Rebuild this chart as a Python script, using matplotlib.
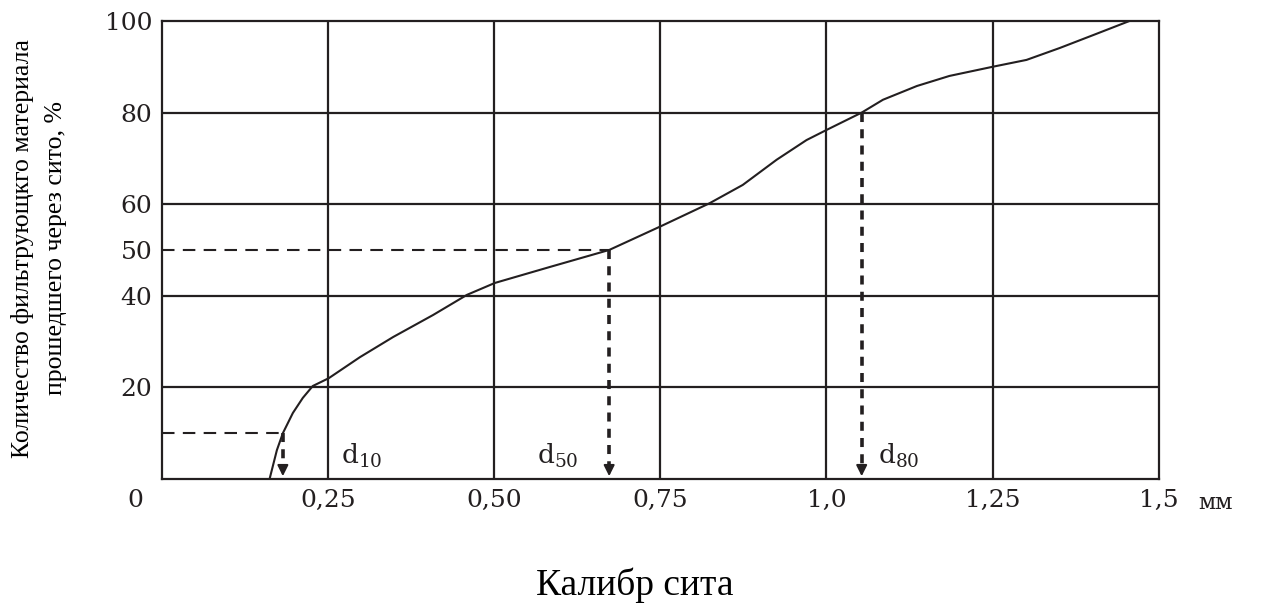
import matplotlib.pyplot as plt

# Данные кривой (калибр сита, мм -> % прошедшего материала)
size_mm = [0.162, 0.173, 0.182, 0.197, 0.212, 0.227, 0.251, 0.298, 0.348, 0.408,
           0.459, 0.501, 0.584, 0.673, 0.751, 0.824, 0.874, 0.925, 0.970, 1.000,
           1.053, 1.085, 1.136, 1.185, 1.250, 1.301, 1.351, 1.401, 1.456]
passed = [0.0, 6.3, 10.0, 14.4, 17.7, 20.3, 22.0, 26.6, 31.0, 35.8,
          40.2, 42.8, 46.3, 50.0, 55.2, 60.2, 64.2, 69.7, 74.0, 76.2,
          80.0, 82.8, 85.8, 88.0, 90.0, 91.5, 94.1, 96.9, 100.0]

# характерные диаметры
d_names = ['10', '50', '80']
d_values = [0.182, 0.673, 1.053]
d_levels = [10, 50, 80]

x_ticks = [0.25, 0.50, 0.75, 1.0, 1.25, 1.5]
x_labels = ['0,25', '0,50', '0,75', '1,0', '1,25', '1,5']
y_ticks = [20, 40, 50, 60, 80, 100]
y_grid = [20, 40, 60, 80]

plt.rcParams['mathtext.fontset'] = 'dejavuserif'
ink = '#231f20'

fig = plt.figure(figsize=(12.65, 6.1), dpi=100)
ax = fig.add_axes([0.128, 0.2148, 0.788, 0.7508])
ax.set_xlim(0, 1.5)
ax.set_ylim(0, 100)

# сетка
for x in x_ticks[:-1]:
    ax.axvline(x, color=ink, lw=1.6, zorder=1)
for y in y_grid:
    ax.axhline(y, color=ink, lw=1.6, zorder=1)
for s in ax.spines.values():
    s.set_linewidth(1.6)
    s.set_color(ink)

ax.plot(size_mm, passed, color=ink, lw=1.5, zorder=3, solid_joinstyle='round')

# пунктирные выноски
for name, dv, lv in zip(d_names, d_values, d_levels):
    if lv <= 50:
        ax.plot([0, dv], [lv, lv], color=ink, lw=1.5, dashes=(6, 4), zorder=2)
    ax.plot([dv, dv], [lv, 2.5], color=ink, lw=2.6, dashes=(2.5, 2), zorder=2)
    ax.annotate('', xy=(dv, 0), xytext=(dv, 3.5),
                arrowprops=dict(arrowstyle='-|>', color=ink, lw=1.5,
                                mutation_scale=16), zorder=4)

ax.text(0.27, 3.3, r'$\mathregular{d_{10}}$', fontsize=19, family='DejaVu Serif', color=ink)
ax.text(0.565, 3.3, r'$\mathregular{d_{50}}$', fontsize=19, family='DejaVu Serif', color=ink)
ax.text(1.078, 3.3, r'$\mathregular{d_{80}}$', fontsize=19, family='DejaVu Serif', color=ink)

ax.set_xticks(x_ticks)
ax.set_xticklabels(x_labels, family='DejaVu Serif', fontsize=18, color=ink)
ax.set_yticks(y_ticks)
ax.set_yticklabels([str(v) for v in y_ticks], family='DejaVu Serif', fontsize=18, color=ink)
ax.tick_params(length=0, pad=7)

ax.text(-0.04, -4.8, '0', family='DejaVu Serif', fontsize=18, color=ink,
        ha='center', va='center', clip_on=False)
ax.text(1.585, -5.2, 'мм', family='DejaVu Serif', fontsize=16, color=ink,
        ha='center', va='center', clip_on=False)

fig.text(0.031, 0.593, 'Количество фильтрующкго материала\nпрошедшего через сито, %',
         family='Liberation Serif', fontsize=18.5, rotation=90, ha='center', va='center',
         linespacing=1.65)
fig.text(0.502, 0.04, 'Калибр сита', family='Liberation Serif', fontsize=27,
         ha='center', va='center')

fig.savefig('out.png', dpi=100)
